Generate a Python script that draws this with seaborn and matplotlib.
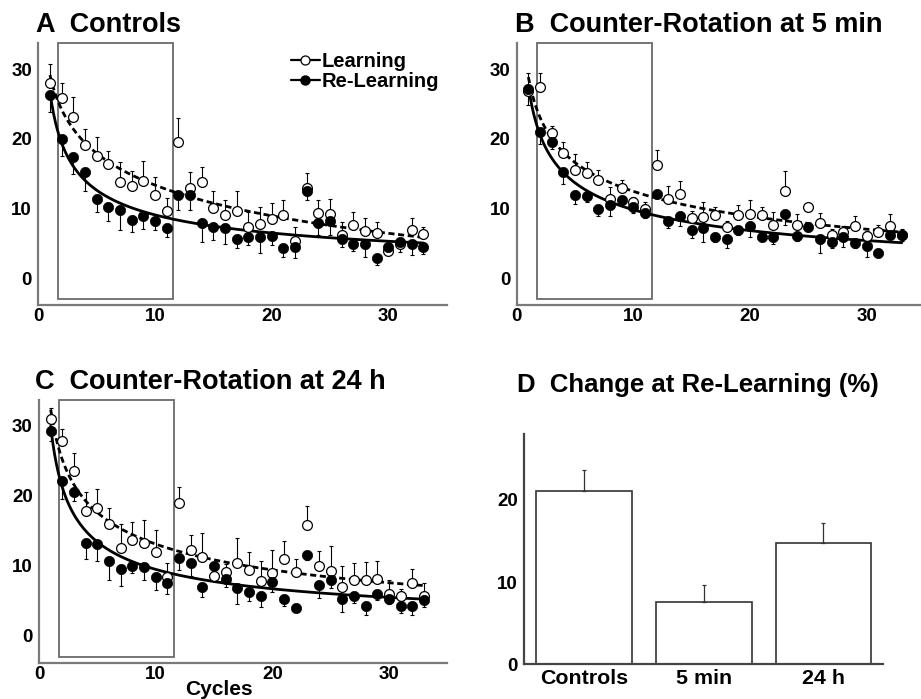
import numpy as np
import pandas as pd
import matplotlib
matplotlib.use("Agg")
import matplotlib.pyplot as plt
import seaborn as sns
from matplotlib.lines import Line2D
from matplotlib.patches import Rectangle
from matplotlib.ticker import MultipleLocator

sns.set_theme(style="white")
plt.rcParams['font.family'] = ['Liberation Sans', 'DejaVu Sans']
plt.rcParams['font.weight'] = 'bold'
plt.rcParams['text.color'] = 'black'
plt.rcParams['axes.labelcolor'] = 'black'

# ---------------- data ----------------
cycles = list(range(1, 34))

ctrl_learn = [28.0, 25.8, 23.2, 19.1, 17.5, 16.4, 13.8, 13.2, 14.0, 12.0, 9.6, 19.5, 13.0,
              13.8, 10.1, 9.1, 9.6, 7.4, 7.8, 8.5, 9.1, 5.4, 13.0, 9.4, 9.3, 6.3, 7.6,
              6.8, 6.5, 4.0, 5.0, 7.0, 6.4]
ctrl_learn_err = [2.7, 2.2, 2.8, 2.3, 2.8, 1.8, 2.9, 2.2, 2.9, 2.6, 2.0, 3.5, 2.2,
                  2.2, 2.4, 2.2, 3.0, 2.1, 2.4, 2.3, 2.2, 2.0, 2.1, 1.9, 2.1, 1.8, 1.9,
                  1.9, 1.6, 0.8, 0.6, 1.6, 1.0]
ctrl_relearn = [26.3, 20.0, 17.4, 15.2, 11.4, 10.2, 9.8, 8.4, 8.9, 8.2, 7.3, 11.9, 11.9,
                8.0, 7.4, 7.2, 5.6, 5.9, 5.9, 6.1, 4.3, 4.5, 12.6, 7.9, 8.2, 5.7, 5.0,
                5.0, 3.0, 4.5, 5.2, 5.0, 4.5]
ctrl_relearn_err = [2.5, 2.5, 2.4, 2.6, 1.9, 1.9, 2.9, 1.7, 1.8, 1.3, 1.3, 2.1, 2.1,
                    2.8, 1.9, 2.2, 1.3, 1.1, 2.2, 1.3, 1.2, 1.6, 1.4, 1.6, 1.9, 1.2, 1.0,
                    1.9, 1.1, 0.9, 1.4, 1.7, 1.0]

min5_learn = [26.8, 27.4, 20.8, 18.0, 15.5, 15.1, 14.1, 11.4, 12.9, 11.0, 10.0, 16.3, 11.4,
              12.1, 8.6, 8.8, 9.1, 7.4, 9.1, 9.3, 9.1, 7.7, 12.5, 7.7, 10.2, 7.9, 6.3,
              6.7, 7.5, 6.1, 6.7, 7.5, 6.3]
min5_learn_err = [2.7, 2.1, 1.1, 1.5, 2.3, 1.6, 1.4, 1.7, 1.2, 0.7, 1.0, 2.1, 1.9,
                  1.9, 1.0, 2.2, 1.1, 0.8, 1.4, 2.0, 1.1, 1.8, 2.9, 1.6, 0.4, 1.5, 0.8,
                  0.8, 1.5, 0.7, 0.9, 1.7, 0.8]
min5_relearn = [27.1, 21.0, 19.5, 15.3, 12.0, 11.8, 9.9, 10.6, 11.2, 10.2, 9.4, 12.1, 8.2,
                9.0, 7.0, 7.3, 5.9, 5.6, 7.0, 7.5, 6.0, 6.0, 9.3, 6.1, 7.4, 5.6, 5.2,
                6.0, 5.1, 4.7, 3.7, 6.3, 6.2]
min5_relearn_err = [2.3, 1.7, 1.0, 1.7, 1.3, 0.8, 0.9, 1.6, 0.8, 0.8, 0.7, 0.6, 0.9,
                    1.5, 1.2, 2.1, 0.7, 1.3, 0.8, 1.5, 0.7, 1.0, 1.7, 0.7, 0.6, 2.0, 0.8,
                    1.5, 0.8, 1.6, 0.5, 0.6, 0.8]

h24_learn = [31.0, 27.8, 23.5, 17.8, 18.2, 16.0, 12.6, 13.7, 13.2, 11.9, 8.4, 19.0, 12.3,
             11.2, 8.5, 9.1, 10.4, 9.4, 7.8, 8.9, 11.0, 9.1, 15.8, 9.9, 9.3, 7.0, 8.0,
             8.0, 8.1, 6.0, 5.7, 7.5, 5.7]
h24_learn_err = [1.6, 1.7, 2.6, 2.7, 2.8, 2.2, 3.4, 2.6, 3.4, 3.2, 2.0, 2.2, 2.1,
                 3.5, 1.2, 1.2, 3.5, 2.5, 2.9, 3.4, 2.5, 1.9, 2.7, 2.2, 3.5, 2.9, 2.4,
                 2.5, 2.6, 2.0, 1.0, 2.0, 1.8]
h24_relearn = [29.3, 22.1, 20.5, 13.3, 13.1, 10.7, 9.6, 10.0, 9.8, 8.4, 7.5, 11.1, 10.4,
               7.0, 9.9, 8.1, 6.8, 6.2, 5.7, 7.7, 5.3, 4.0, 11.6, 7.2, 8.0, 5.2, 5.7,
               4.3, 5.9, 5.3, 4.2, 4.2, 5.1]
h24_relearn_err = [1.5, 2.5, 1.3, 2.4, 2.4, 2.7, 2.5, 1.1, 1.8, 1.8, 1.5, 1.7, 1.8,
                   1.5, 1.2, 1.2, 2.2, 1.3, 1.6, 1.4, 1.1, 0.5, 0.8, 1.8, 1.2, 1.8, 1.0,
                   1.3, 0.8, 0.8, 1.0, 1.3, 1.0]

change_groups = ["Controls", "5 min", "24 h"]
change_values = [21.1, 7.6, 14.8]
change_err = [2.5, 2.0, 2.4]

GRAY = '#7a7a7a'
TICKFS = 13.5


def fit_power(x, y):
    """Least-squares fit y = c + a * x**(-b) to the read points."""
    x = np.asarray(x, float)
    y = np.asarray(y, float)
    best = None
    for b in np.linspace(0.05, 3.0, 296):
        X = np.column_stack([np.ones_like(x), x ** -b])
        coef, *_ = np.linalg.lstsq(X, y, rcond=None)
        r = np.sum((X @ coef - y) ** 2)
        if best is None or r < best[0]:
            best = (r, b, coef)
    _, b, coef = best
    xs = np.linspace(x.min(), x.max(), 200)
    return xs, coef[0] + coef[1] * xs ** -b


def style_axis(ax, xlim, ylim):
    ax.set_xlim(*xlim)
    ax.set_ylim(*ylim)
    for s in ['top', 'right']:
        ax.spines[s].set_visible(False)
    for s in ['left', 'bottom']:
        ax.spines[s].set_color(GRAY)
        ax.spines[s].set_linewidth(1.6)
    ax.tick_params(which='both', direction='in', color=GRAY, width=1.0,
                   labelcolor='black')
    ax.tick_params(which='major', length=4)
    ax.tick_params(which='minor', length=3)
    ax.tick_params(axis='y', which='major', pad=4.5, labelsize=TICKFS)
    ax.tick_params(axis='x', which='major', pad=2, labelsize=TICKFS)
    for lab in ax.get_xticklabels() + ax.get_yticklabels():
        lab.set_fontweight('bold')
    ax.set_xlabel('')
    ax.set_ylabel('')
    ax.grid(False)
    ax.set_facecolor('none')


def curve_panel(ax, learn, learn_err, relearn, relearn_err, xlim, ylim):
    x = np.array(cycles, float)
    # block of cycles (rectangle)
    rect = Rectangle((1.7, -3.0), 11.57 - 1.7, ylim[1] + 3.0, fill=False,
                     edgecolor='#6a6a6a', linewidth=1.3, zorder=1, clip_on=False)
    ax.add_patch(rect)
    # fitted curves
    xs, ys = fit_power(x, learn)
    sns.lineplot(x=xs, y=ys, ax=ax, color='black', linewidth=2.0, zorder=2,
                 estimator=None, sort=False)
    ax.lines[-1].set_dashes((2.2, 1.3))
    xs, ys = fit_power(x, relearn)
    sns.lineplot(x=xs, y=ys, ax=ax, color='black', linewidth=2.0, zorder=2,
                 estimator=None, sort=False)
    # error bars: learning upward, re-learning downward
    ax.errorbar(x, learn, yerr=[np.zeros(len(x)), learn_err], fmt='none',
                ecolor='black', elinewidth=0.8, capsize=1.3, capthick=0.8, zorder=2.5)
    ax.errorbar(x, relearn, yerr=[relearn_err, np.zeros(len(x))], fmt='none',
                ecolor='black', elinewidth=0.8, capsize=1.3, capthick=0.8, zorder=2.5)
    df = pd.DataFrame({'cycle': x, 'learn': learn, 'relearn': relearn})
    sns.scatterplot(data=df, x='cycle', y='learn', ax=ax, marker='o', s=50,
                    facecolor='white', edgecolor='black', linewidth=0.9, zorder=3)
    sns.scatterplot(data=df, x='cycle', y='relearn', ax=ax, marker='o', s=55,
                    color='black', edgecolor='black', linewidth=0.5, zorder=4)
    ax.xaxis.set_major_locator(MultipleLocator(10))
    ax.xaxis.set_minor_locator(MultipleLocator(5))
    ax.yaxis.set_major_locator(MultipleLocator(10))
    ax.yaxis.set_minor_locator(MultipleLocator(5))
    style_axis(ax, xlim, ylim)


fig = plt.figure(figsize=(9.21, 6.99), dpi=100)
fig.patch.set_facecolor('white')

axA = fig.add_axes([0.04159, 0.56366, 0.44343, 0.37439])
axB = fig.add_axes([0.56102, 0.56366, 0.43789, 0.37439])
axC = fig.add_axes([0.04235, 0.05107, 0.44343, 0.37668])
axD = fig.add_axes([0.56927, 0.04964, 0.38979, 0.32947])

curve_panel(axA, ctrl_learn, ctrl_learn_err, ctrl_relearn, ctrl_relearn_err,
            (0, 35), (-3.8, 33.7))
curve_panel(axB, min5_learn, min5_learn_err, min5_relearn, min5_relearn_err,
            (0, 34.56), (-3.8, 33.7))
curve_panel(axC, h24_learn, h24_learn_err, h24_relearn, h24_relearn_err,
            (0, 35), (-3.95, 33.7))

# legend in panel A
handles = [Line2D([], [], color='black', linewidth=1.6, marker='o', markersize=6.5,
                  markerfacecolor='white', markeredgecolor='black', markeredgewidth=0.9),
           Line2D([], [], color='black', linewidth=1.6, marker='o', markersize=6.5,
                  markerfacecolor='black', markeredgecolor='black')]
leg = axA.legend(handles, ['Learning', 'Re-Learning'], loc='upper left',
                 bbox_to_anchor=(0.618, 0.965), frameon=False, fontsize=14.5,
                 handlelength=1.45, handletextpad=0.08, labelspacing=0.02,
                 borderpad=0, borderaxespad=0)
for t in leg.get_texts():
    t.set_fontweight('bold')
    t.set_color('black')

# panel D bars
dfD = pd.DataFrame({'group': change_groups, 'value': change_values})
sns.barplot(data=dfD, x='group', y='value', ax=axD, color='white', saturation=1,
            edgecolor='#333333', linewidth=1.2, width=0.8, errorbar=None, zorder=2)
axD.errorbar(range(len(change_values)), change_values,
             yerr=[np.zeros(3), change_err], fmt='none', ecolor='#333333',
             elinewidth=0.9, capsize=1.3, capthick=0.9, zorder=3)
axD.yaxis.set_major_locator(MultipleLocator(10))
axD.yaxis.set_minor_locator(MultipleLocator(5))
axD.set_xticks([0.5, 1.5, 2.5], minor=True)
style_axis(axD, (-0.5, 2.5), (0, 28))
axD.spines['left'].set_color('#444444')
axD.spines['bottom'].set_color('#444444')
axD.tick_params(axis='x', which='major', length=0, pad=3.5, labelsize=15.4)
for lab in axD.get_xticklabels():
    lab.set_fontweight('bold')

# titles and labels
fig.text(36 / 921, 1 - 31.7 / 699, 'A  Controls', fontsize=19.5, fontweight='bold',
         va='baseline', ha='left', color='black')
fig.text(515 / 921, 1 - 31.7 / 699, 'B  Counter-Rotation at 5 min', fontsize=19.5,
         fontweight='bold', va='baseline', ha='left', color='black')
fig.text(35 / 921, 1 - 389 / 699, 'C  Counter-Rotation at 24 h', fontsize=19.5,
         fontweight='bold', va='baseline', ha='left', color='black')
fig.text(516.7 / 921, 1 - 392.5 / 699, 'D  Change at Re-Learning (%)', fontsize=18.5,
         fontweight='bold', va='baseline', ha='left', color='black')
fig.text(219 / 921, 1 - 695 / 699, 'Cycles', fontsize=15, fontweight='bold',
         va='baseline', ha='center', color='black')

fig.savefig('out.png', dpi=100, facecolor='white')
